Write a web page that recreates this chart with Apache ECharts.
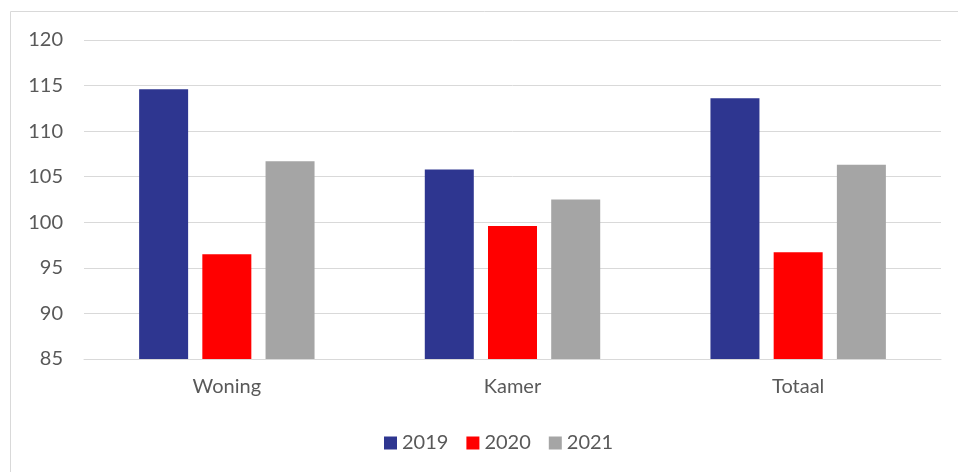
<!DOCTYPE html>
<html>
<head>
<meta charset="utf-8">
<script src="https://cdn.jsdelivr.net/npm/echarts@6/dist/echarts.min.js"></script>
<style>
  html, body { margin: 0; padding: 0; background: #fff; }
  #chart { width: 958px; height: 472px; }
</style>
</head>
<body>
<div id="chart"></div>
<script>
const categories = ['Woning', 'Kamer', 'Totaal']
const years = ['2019', '2020', '2021']
const values2019 = [114.6, 105.8, 113.6]
const values2020 = [96.5, 99.6, 96.7]
const values2021 = [106.7, 102.5, 106.3]
const colors = ['#2E3690', '#FF0000', '#A5A5A5']

const textColor = '#595959'
const fontFamily = 'Lato, "Open Sans", sans-serif'

let mychart = echarts.init(document.getElementById('chart'))
let option = {
  color: colors,
  animation: false,
  graphic: [
    {
      type: 'rect',
      shape: { x: 10.5, y: 11.5, width: 1200, height: 1200 },
      style: { fill: 'none', stroke: '#d9d9d9', lineWidth: 1 },
      silent: true,
    },
  ],
  grid: {
    left: 84,
    right: 17,
    top: 40,
    bottom: 113,
  },
  legend: {
    data: years,
    left: 379,
    top: 428,
    icon: 'rect',
    itemWidth: 13,
    itemHeight: 13,
    itemGap: 18,
    textStyle: { color: textColor, fontSize: 20, fontFamily: fontFamily },
  },
  xAxis: {
    type: 'category',
    data: categories,
    axisTick: { show: false },
    axisLine: { lineStyle: { color: '#d9d9d9', width: 1 } },
    axisLabel: {
      color: textColor,
      fontSize: 20,
      fontFamily: fontFamily,
      margin: 18,
    },
  },
  yAxis: {
    type: 'value',
    min: 85,
    max: 120,
    interval: 5,
    axisLine: { show: false },
    axisTick: { show: false },
    axisLabel: {
      color: textColor,
      fontSize: 20,
      fontFamily: fontFamily,
      margin: 21,
    },
    splitLine: { lineStyle: { color: '#d9d9d9', width: 1 } },
  },
  series: [
    { name: years[0], type: 'bar', data: values2019, barWidth: 49, barGap: '29%' },
    { name: years[1], type: 'bar', data: values2020, barWidth: 49, barGap: '29%' },
    { name: years[2], type: 'bar', data: values2021, barWidth: 49, barGap: '29%' },
  ],
}
mychart.setOption(option)
</script>
</body>
</html>
